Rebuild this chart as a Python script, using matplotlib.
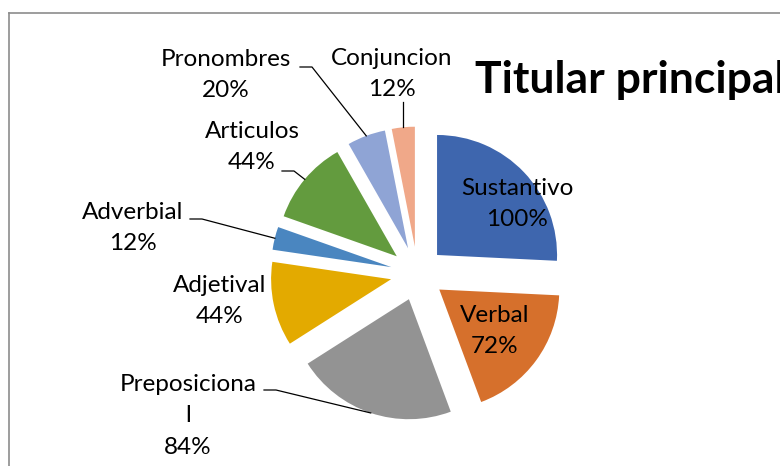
"""
# Titular principal - exploded pie
"""

import numpy as np
import matplotlib
matplotlib.use("Agg")
import matplotlib.pyplot as plt
from matplotlib.lines import Line2D

# Data
categories = ["Sustantivo", "Verbal", "Preposicional", "Adjetival",
              "Adverbial", "Articulos", "Pronombres", "Conjuncion"]
values = [100, 72, 84, 44, 12, 44, 20, 12]
label_texts = ["Sustantivo\n100%", "Verbal\n72%", "Preposiciona\nl\n84%",
               "Adjetival\n44%", "Adverbial\n12%", "Articulos\n44%",
               "Pronombres\n20%", "Conjuncion\n12%"]
colors = ["#3E66AE", "#D6702C", "#939393", "#E3AA00",
          "#4A86C0", "#639B3E", "#8FA4D5", "#F0A889"]

title = "Titular principal"

W, H = 780, 466
FONT = "Lato"

# label centres (screen px, y down) and optional leader elbow
label_pos = [(517, 204), (495, 331), (188, 416), (220, 301),
             (133, 228), (252, 147), (226, 75), (392, 74)]
elbows = [None, None, (264, 390), None, (190, 219), (282, 171), (300, 67), None]
vert_leader = [False] * 7 + [True]


def sy(y):
    # screen y (down) -> data y (up)
    return H - y


fig = plt.figure(figsize=(W / 100, H / 100), dpi=100)
ax = fig.add_axes([0, 0, 1, 1])

cx, cy, r = 417.5, sy(273.6), 120
wedges, _ = ax.pie(values, colors=colors, startangle=90, counterclock=False,
                   radius=r, center=(cx, cy), explode=[27] * len(values),
                   wedgeprops=dict(linewidth=0), frame=True)

ax.set_xlim(0, W)
ax.set_ylim(0, H)
ax.set_aspect("auto")
ax.axis("off")

# chart border (clipped on right and bottom)
ax.add_line(Line2D([9, W + 5], [sy(13), sy(13)], color="#8C8C8C", lw=1.2))
ax.add_line(Line2D([9, 9], [sy(13), -5], color="#8C8C8C", lw=1.2))

for w, txt, pos, elb, vert in zip(wedges, label_texts, label_pos, elbows, vert_leader):
    ax.text(pos[0], sy(pos[1]), txt, ha="center", va="center",
            fontsize=17.5, family=FONT, linespacing=1.6, color="black")
    th = np.deg2rad((w.theta1 + w.theta2) / 2)
    ex = w.center[0] + w.r * np.cos(th)
    ey = w.center[1] + w.r * np.sin(th)
    if elb is not None:
        x0, y0 = elb
        ax.plot([x0, x0 + 12, ex], [sy(y0), sy(y0), ey], color="black", lw=0.9)
    elif vert:
        ax.plot([ex, ex], [sy(102), ey], color="black", lw=0.9)

ax.text(475, sy(80), title, ha="left", va="center", fontsize=32,
        family=FONT, fontweight="bold", color="black")

fig.savefig("out.png", dpi=100)
